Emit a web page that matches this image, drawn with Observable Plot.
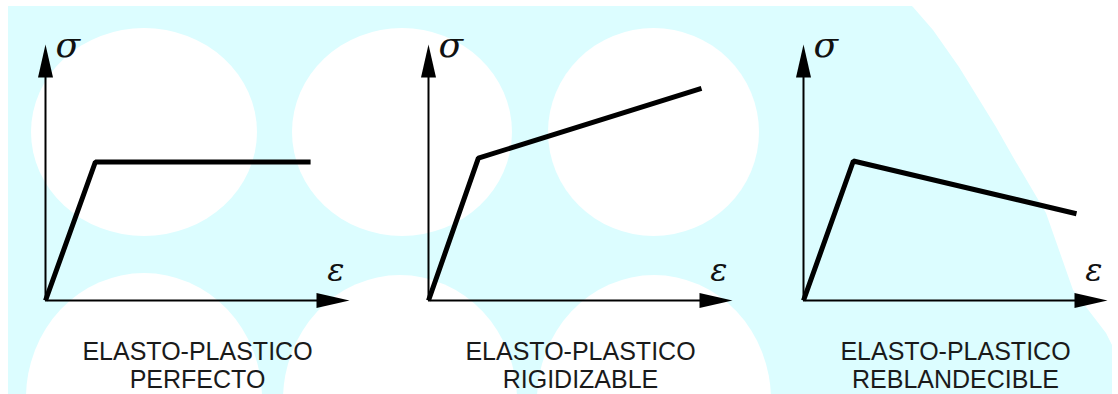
<!DOCTYPE html>
<html>
<head>
<meta charset="utf-8">
<script src="https://cdn.jsdelivr.net/npm/d3@7"></script>
<script src="https://cdn.jsdelivr.net/npm/@observablehq/plot@0.6"></script>
<style>
  html, body { margin: 0; padding: 0; background: #fff; }
  #wrap { position: relative; width: 1118px; height: 394px; overflow: hidden; background: #fff; }
  #bg { position: absolute; left: 8px; top: 6px; width: 1104px; height: 388px; background: #dcfdff; }
  .blob { position: absolute; background: #fff; border-radius: 50%; }
  #corner { position: absolute; left: 0; top: 0; width: 1118px; height: 394px; background: #fff;
    clip-path: polygon(905px 0, 1118px 0, 1118px 394px, 1112px 394px, 1112px 345px, 1106px 333px, 1073px 290px, 1046px 213px, 1013px 157px, 996px 127px, 959px 67px, 933px 30px, 913px 7px); }
  .panel { position: absolute; }
  .panel svg { overflow: visible; background: transparent; }
</style>
</head>
<body>
<div id="wrap">
  <div id="bg"></div>
  <div class="blob" style="left:31px;top:28px;width:226px;height:208px"></div>
  <div class="blob" style="left:292px;top:28px;width:220px;height:208px"></div>
  <div class="blob" style="left:548px;top:28px;width:211px;height:208px"></div>
  <div class="blob" style="left:26px;top:273px;width:236px;height:250px"></div>
  <div class="blob" style="left:283px;top:275px;width:234px;height:250px"></div>
  <div class="blob" style="left:537px;top:275px;width:234px;height:250px"></div>
  <div id="corner"></div>
</div>
<script>
// ---- data ----
const captionTitle = "ELASTO-PLASTICO";
const captionKinds = ["PERFECTO", "RIGIDIZABLE", "REBLANDECIBLE"];
const strainPoints = [[0, 1.64, 8.72], [0, 1.64, 8.98], [0, 1.64, 8.98]];
const stressPoints = [[0, 5.41, 5.41], [0, 5.56, 8.29], [0, 5.45, 3.39]];
const stressLabel = "σ";
const strainLabel = "ε";
const axisDomain = [0, 10];
const axisLineEnd = 9;

// ---- layout ----
const panelLeft = [0, 383, 758];

const arrowSymbol = {
  draw(context) {
    context.moveTo(0, 0);
    context.lineTo(-7.5, 33);
    context.lineTo(7.5, 33);
    context.closePath();
  }
};

const wrap = document.getElementById("wrap");

captionKinds.forEach((kind, p) => {
  const curve = strainPoints[p].map((e, i) => ({strain: e, stress: stressPoints[p][i]}));
  const tips = [
    {strain: axisDomain[0], stress: axisDomain[1], angle: 0},
    {strain: axisDomain[1], stress: axisDomain[0], angle: 90}
  ];
  const chart = Plot.plot({
    width: 360,
    height: 392,
    marginLeft: 45,
    marginRight: 11,
    marginTop: 44,
    marginBottom: 92,
    x: {domain: axisDomain, axis: null},
    y: {domain: axisDomain, axis: null},
    style: {background: "transparent", overflow: "visible"},
    marks: [
      Plot.ruleX([axisDomain[0]], {y1: axisDomain[0], y2: axisLineEnd, stroke: "#000", strokeWidth: 2}),
      Plot.ruleY([axisDomain[0]], {x1: axisDomain[0], x2: axisLineEnd, stroke: "#000", strokeWidth: 2}),
      Plot.dot(tips, {x: "strain", y: "stress", rotate: "angle", symbol: arrowSymbol, fill: "#000", stroke: "none"}),
      Plot.line(curve, {x: "strain", y: "stress", stroke: "#000", strokeWidth: 5,
        strokeLinejoin: "miter", strokeLinecap: "butt"}),
      Plot.text([stressLabel], {frameAnchor: "top-left", text: d => d, dx: 10, dy: 12,
        textAnchor: "start", lineAnchor: "bottom", fontSize: 36, fontStyle: "italic",
        fontFamily: "DejaVu Serif, serif", fill: "#111"}),
      Plot.text([strainLabel], {frameAnchor: "bottom-right", text: d => d, dx: -5, dy: -20,
        textAnchor: "end", lineAnchor: "bottom", fontSize: 32, fontStyle: "italic",
        fontFamily: "DejaVu Serif, serif", fill: "#111"}),
      Plot.text([`${captionTitle}\n${kind}`], {frameAnchor: "bottom", text: d => d, dy: 39,
        lineAnchor: "top", lineHeight: 1.14, fontSize: 25,
        fontFamily: "Liberation Sans, Arial, sans-serif", fill: "#1a1a1a"})
    ]
  });
  const holder = document.createElement("div");
  holder.className = "panel";
  holder.style.left = panelLeft[p] + "px";
  holder.style.top = "0px";
  holder.appendChild(chart);
  wrap.appendChild(holder);
});
</script>
</body>
</html>
